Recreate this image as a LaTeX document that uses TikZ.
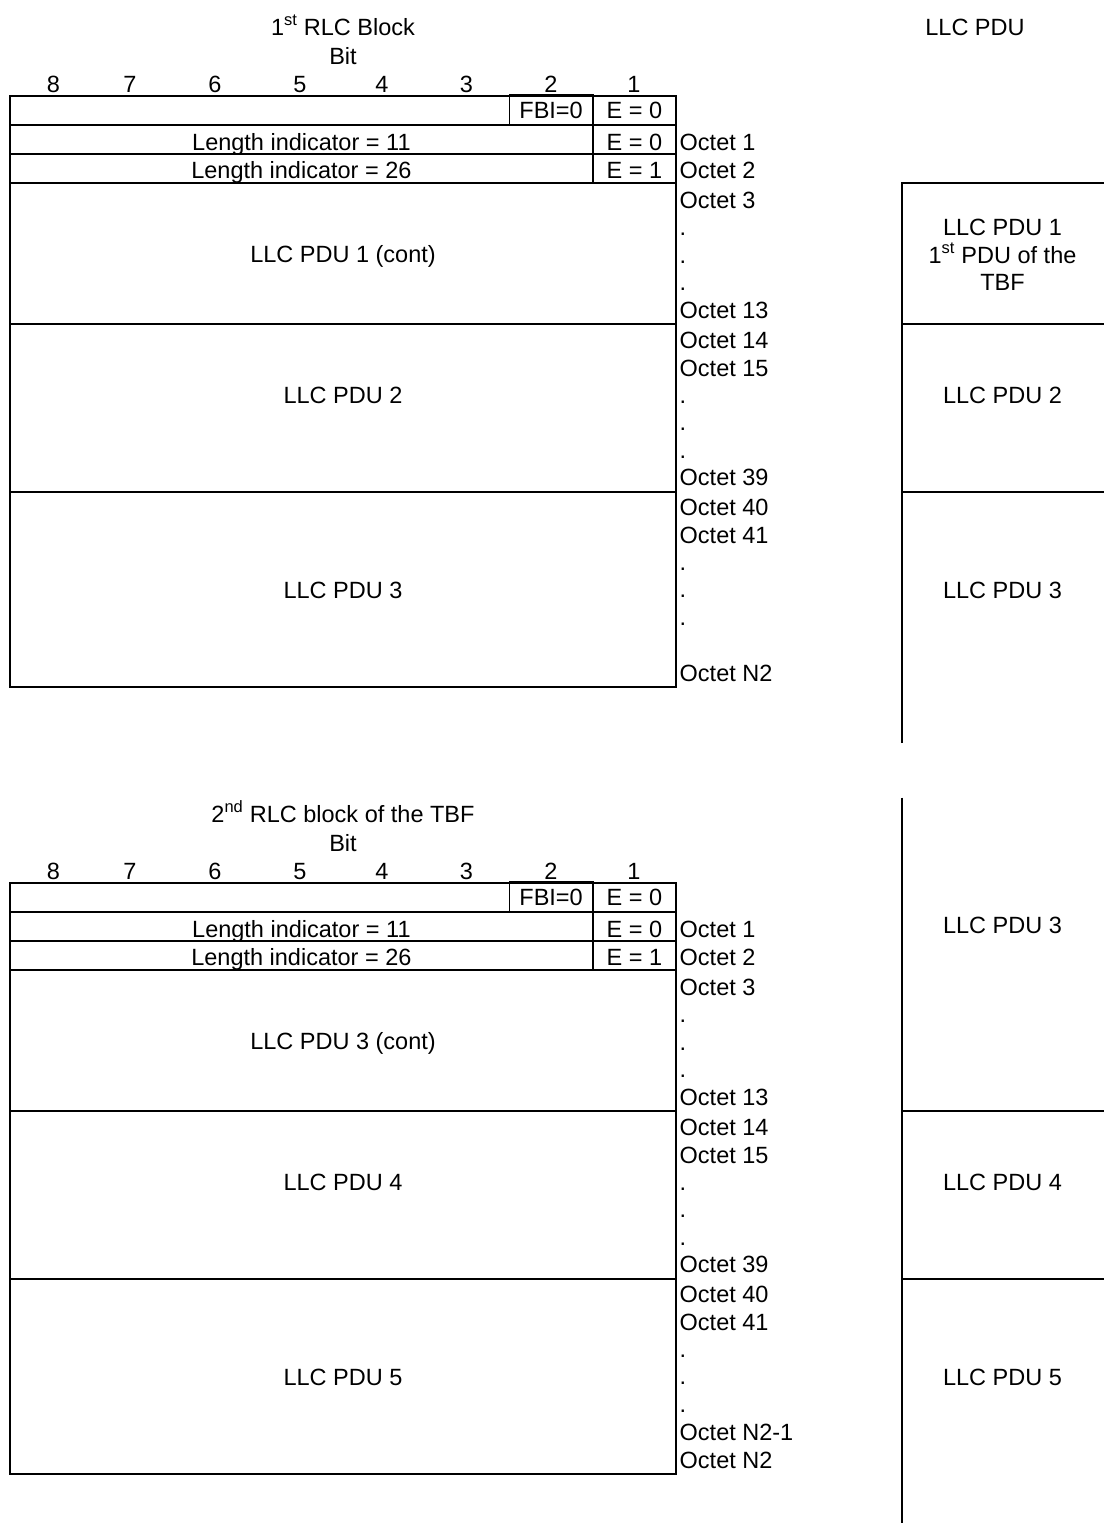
\documentclass[tikz,border=0pt]{standalone}
\usepackage{fontspec}
\setmainfont{Liberation Sans}
\begin{document}
\begin{tikzpicture}[x=1pt,y=-1pt,
  every node/.style={inner sep=0pt,font=\fontsize{23.5}{27.5}\selectfont},
  lbl/.style={anchor=base west},
  ctext/.style={anchor=base},
  cellline/.style={draw,line width=1.6pt},
  colline/.style={line width=1.6pt}]
\useasboundingbox (0,0) rectangle (1103,1523);

% ---------- header of right column ----------
\node[ctext] (llchead) at (975,35) {LLC PDU};

% ---------- one RLC block (drawn twice) ----------
\newcommand\myrlcblock[4]{%
\begin{scope}[yshift=-#1pt, name prefix=#2-]
  \node[ctext] (title) at (343,35) {#3};
  \node[ctext] (bit) at (343,64) {Bit};
  \foreach \xx/\nn [count=\k] in {53.5/8,130/7,215/6,300/5,382/4,466.5/3,551/2,634/1}
    \node[ctext] (bn\k) at (\xx,92.5) {\nn};
  % header rows
  \draw[cellline] (10,96) rectangle (676,125);
  \draw[cellline] (509.5,94.5) rectangle (592.75,125);
  \draw[cellline] (592.75,96) rectangle (676,125);
  \draw[cellline] (10,125) rectangle (592.75,154);
  \draw[cellline] (592.75,125) rectangle (676,154);
  \draw[cellline] (10,154) rectangle (592.75,183);
  \draw[cellline] (592.75,154) rectangle (676,183);
  \node[ctext] (fbi) at (551.1,118.4) {FBI=0};
  \node[ctext] (e1) at (634.4,118.4) {E = 0};
  \node[ctext] (li1) at (301.4,150) {Length indicator = 11};
  \node[ctext] (e2) at (634.4,150) {E = 0};
  \node[ctext] (li2) at (301.4,178.4) {Length indicator = 26};
  \node[ctext] (e3) at (634.4,178.4) {E = 1};
  % data boxes
  \draw[cellline] (10,183) rectangle (676,324);
  \draw[cellline] (10,324) rectangle (676,492);
  \draw[cellline] (10,492) rectangle (676,686.7);
  #4
\end{scope}}

% ---------- first block ----------
\myrlcblock{0}{b1}{1\textsuperscript{st} RLC Block}{%
  \node[ctext] (pduA) at (343,262) {LLC PDU 1 (cont)};
  \node[ctext] (pduB) at (343,403) {LLC PDU 2};
  \node[ctext] (pduC) at (343,598) {LLC PDU 3};
  \foreach \yy/\txt [count=\k] in {150.4/Octet 1,178.4/Octet 2,208.4/Octet 3,235.9/.,263.4/.,290.9/.,318.4/Octet 13,348.4/Octet 14,376/Octet 15,403.4/.,430.7/.,458/.,485.4/Octet 39,515/Octet 40,543.4/Octet 41,570/.,597.5/.,625/.,681.5/Octet N2}
    \node[lbl] (oct\k) at (679.5,\yy) {\txt};
  % right column
  \draw[colline] (902,743) -- (902,183) -- (1104,183);
  \draw[colline] (902,324) -- (1104,324);
  \draw[colline] (902,492) -- (1104,492);
  \node[ctext] (r1a) at (1002.5,235.4) {LLC PDU 1};
  \node[ctext] (r1b) at (1002.5,263) {1\textsuperscript{st} PDU of the};
  \node[ctext] (r1c) at (1002.5,290.5) {TBF};
  \node[ctext] (r2) at (1002.5,403) {LLC PDU 2};
  \node[ctext] (r3) at (1002.5,598) {LLC PDU 3};
}

% ---------- second block ----------
\myrlcblock{787}{b2}{2\textsuperscript{nd} RLC block of the TBF}{%
  \node[ctext] (pduA) at (343,262) {LLC PDU 3 (cont)};
  \node[ctext] (pduB) at (343,403) {LLC PDU 4};
  \node[ctext] (pduC) at (343,598) {LLC PDU 5};
  \foreach \yy/\txt [count=\k] in {150.4/Octet 1,178.4/Octet 2,208.4/Octet 3,235.9/.,263.4/.,290.9/.,318.4/Octet 13,348.4/Octet 14,376/Octet 15,403.4/.,430.7/.,458/.,485.4/Octet 39,515/Octet 40,543.4/Octet 41,570/.,597.5/.,625/.,653.4/Octet N2-1,681/Octet N2}
    \node[lbl] (oct\k) at (679.5,\yy) {\txt};
  % right column
  \draw[colline] (902,10.7) -- (902,737);
  \draw[colline] (902,324) -- (1104,324);
  \draw[colline] (902,492) -- (1104,492);
  \node[ctext] (r3) at (1002.5,146.5) {LLC PDU 3};
  \node[ctext] (r4) at (1002.5,403) {LLC PDU 4};
  \node[ctext] (r5) at (1002.5,598) {LLC PDU 5};
}
\end{tikzpicture}
\end{document}
